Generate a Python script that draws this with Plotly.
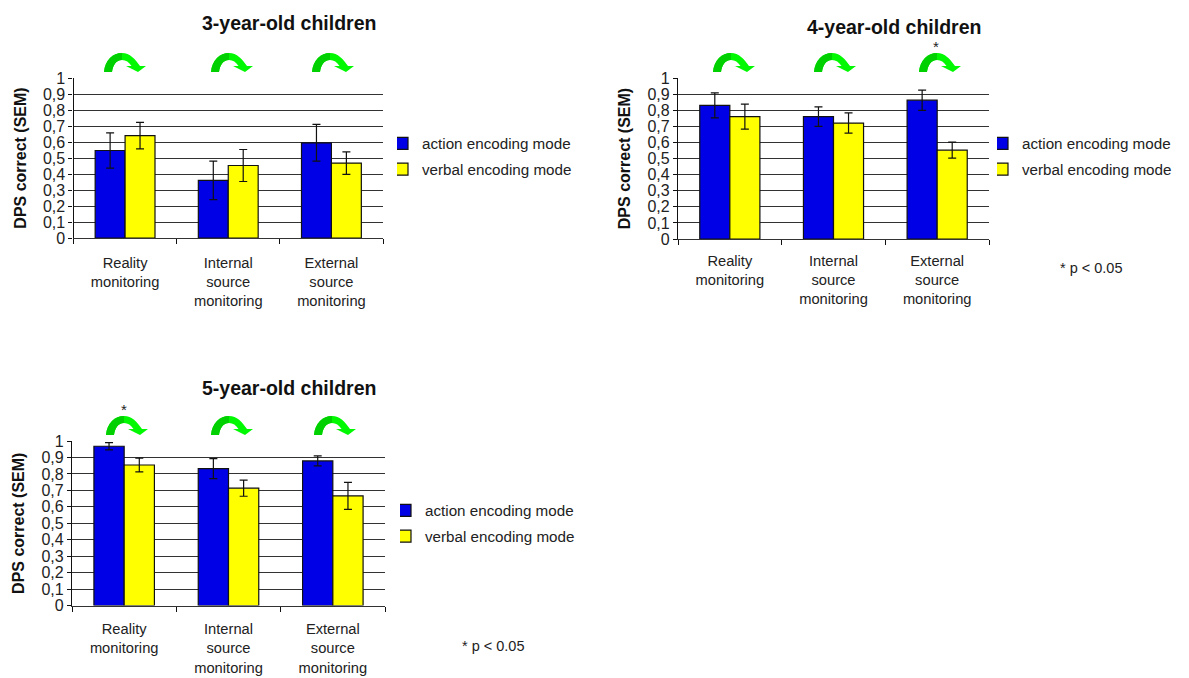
import plotly.graph_objects as go

W, H = 1189, 678
PAGE = 8  # default page margin around the figure
FW, FH = W - PAGE, H - PAGE
categories = ["Reality<br>monitoring", "Internal<br>source<br>monitoring", "External<br>source<br>monitoring"]
series_names = ["action encoding mode", "verbal encoding mode"]
ytick_vals = [0, .1, .2, .3, .4, .5, .6, .7, .8, .9, 1]
ytick_text = ["0", "0,1", "0,2", "0,3", "0,4", "0,5", "0,6", "0,7", "0,8", "0,9", "1"]

action_3 = [0.547, 0.36, 0.595]
verbal_3 = [0.64, 0.453, 0.468]
action_3_err = [0.11, 0.12, 0.115]
verbal_3_err = [0.083, 0.10, 0.07]

action_4 = [0.83, 0.76, 0.862]
verbal_4 = [0.76, 0.72, 0.552]
action_4_err = [0.078, 0.061, 0.063]
verbal_4_err = [0.078, 0.063, 0.05]

action_5 = [0.968, 0.832, 0.879]
verbal_5 = [0.854, 0.713, 0.666]
action_5_err = [0.022, 0.061, 0.03]
verbal_5_err = [0.042, 0.049, 0.082]

FONT = "Liberation Sans"
px = lambda x: (x - PAGE) / FW
py = lambda y: 1 - (y - PAGE) / FH

panels = [
    dict(s="", a=action_3, v=verbal_3, ae=action_3_err, ve=verbal_3_err, box=(73.5, 383, 78, 238), so=11,
         title="3-year-old children", tpos=(289, 23), lpos=(397, 127), arrows=[104, 211, 312], ay=72),
    dict(s="2", a=action_4, v=verbal_4, ae=action_4_err, ve=verbal_4_err, box=(678, 989, 78, 239), so=8,
         title="4-year-old children", tpos=(894, 27), lpos=(997, 127), arrows=[713, 814, 919], ay=72),
    dict(s="3", a=action_5, v=verbal_5, ae=action_5_err, ve=verbal_5_err, box=(72, 385, 441, 605.5), so=10,
         title="5-year-old children", tpos=(289, 388), lpos=(400, 494), arrows=[106, 211, 314], ay=435),
]

fig = go.Figure()
shapes, annotations = [], []


def P(x0, yb, a, b):
    return f"{px(x0 + a):.5f},{py(yb + b):.5f}"


def arrow_path(x0, yb):
    p = lambda a, b: P(x0, yb, a, b)
    return (f"M {p(0,0)} C {p(1,-12)} {p(9,-19)} {p(18,-19)} C {p(26,-19)} {p(31,-13)} {p(36,-6)} "
            f"L {p(42,-6)} L {p(34,0)} L {p(22,-6)} L {p(27.5,-6)} "
            f"C {p(25,-10)} {p(22,-12)} {p(18,-12)} C {p(12,-12)} {p(9,-7)} {p(8,0)} Z")


def arrow_dark(x0, yb):
    p = lambda a, b: P(x0, yb, a, b)
    return (f"M {p(0,0)} C {p(1,-12)} {p(9,-19)} {p(18,-19)} L {p(18,-12)} "
            f"C {p(12,-12)} {p(9,-7)} {p(8,0)} Z")


layout = {}
for i, p in enumerate(panels):
    s = p["s"]
    xa, ya = f"x{s}", f"y{s}"
    leg = f"legend{s}"
    x0, x1, y0, y1 = p["box"]
    for name, vals, errs, col in [(series_names[0], p["a"], p["ae"], "#0000e6"), (series_names[1], p["v"], p["ve"], "#ffff00")]:
        fig.add_trace(go.Bar(
            x=categories, y=vals, name=name, xaxis=xa, yaxis=ya, legend=leg, legendgroup=f"{i}{name}",
            marker=dict(color=col, line=dict(color="#111111", width=1.2)),
            error_y=dict(type="data", array=errs, color="#111111", thickness=1.2, width=4),
        ))
    layout[f"xaxis{s}"] = dict(domain=[px(x0), px(x1)], anchor=ya, tickson="boundaries", ticks="outside",
                               ticklen=5, tickcolor="#111", showline=True, linecolor="#333", linewidth=1.3,
                               showgrid=False, tickfont=dict(family=FONT, size=14.7, color="#222"),
                               ticklabelstandoff=p["so"], automargin=False,
                               categoryorder="array", categoryarray=categories)
    layout[f"yaxis{s}"] = dict(domain=[py(y1), py(y0)], anchor=xa, range=[0, 1], tickvals=ytick_vals,
                               ticktext=ytick_text, ticks="outside", ticklen=4, tickcolor="#111",
                               showline=True, linecolor="#111", linewidth=1.3, showgrid=True,
                               gridcolor="#333", gridwidth=1.2, zeroline=False, automargin=False,
                               tickfont=dict(family=FONT, size=16, color="#222"),
                               title=dict(text="<b>DPS correct (SEM)</b>", standoff=12,
                                          font=dict(family=FONT, size=16, color="#111")))
    layout[f"legend{s}"] = dict(x=px(p["lpos"][0]), y=py(p["lpos"][1]), xanchor="left", yanchor="top",
                                bgcolor="rgba(0,0,0,0)", tracegroupgap=3, itemwidth=30, indentation=-15,
                                font=dict(family=FONT, size=15.2, color="#222"), itemclick=False)
    annotations.append(dict(text=f"<b>{p['title']}</b>", x=px(p["tpos"][0]), y=py(p["tpos"][1]), xref="paper", yref="paper",
                            showarrow=False, xanchor="center", yanchor="middle",
                            font=dict(family=FONT, size=19.5, color="#111")))
    for ax in p["arrows"]:
        shapes.append(dict(type="path", path=arrow_path(ax, p["ay"]), xref="paper", yref="paper",
                           fillcolor="#00f800", line=dict(width=0), layer="above"))
        shapes.append(dict(type="path", path=arrow_dark(ax, p["ay"]), xref="paper", yref="paper",
                           fillcolor="#00d000", line=dict(width=0), layer="above"))

for t, x, y, sz in [("*", 936, 46, 15), ("*", 124, 409, 15), ("* p &lt; 0.05", 1091, 268, 14.5), ("* p &lt; 0.05", 493, 646, 14.5)]:
    annotations.append(dict(text=t, x=px(x), y=py(y), xref="paper", yref="paper", showarrow=False,
                            xanchor="center", yanchor="middle", font=dict(family=FONT, size=sz, color="#222")))

fig.update_layout(
    width=FW, height=FH, margin=dict(l=0, r=0, t=0, b=0), paper_bgcolor="white", plot_bgcolor="white",
    barmode="group", bargap=0.42, bargroupgap=0, showlegend=True, shapes=shapes, annotations=annotations, **layout)

fig.write_html("out.html", config={"displayModeBar": False, "responsive": False})
